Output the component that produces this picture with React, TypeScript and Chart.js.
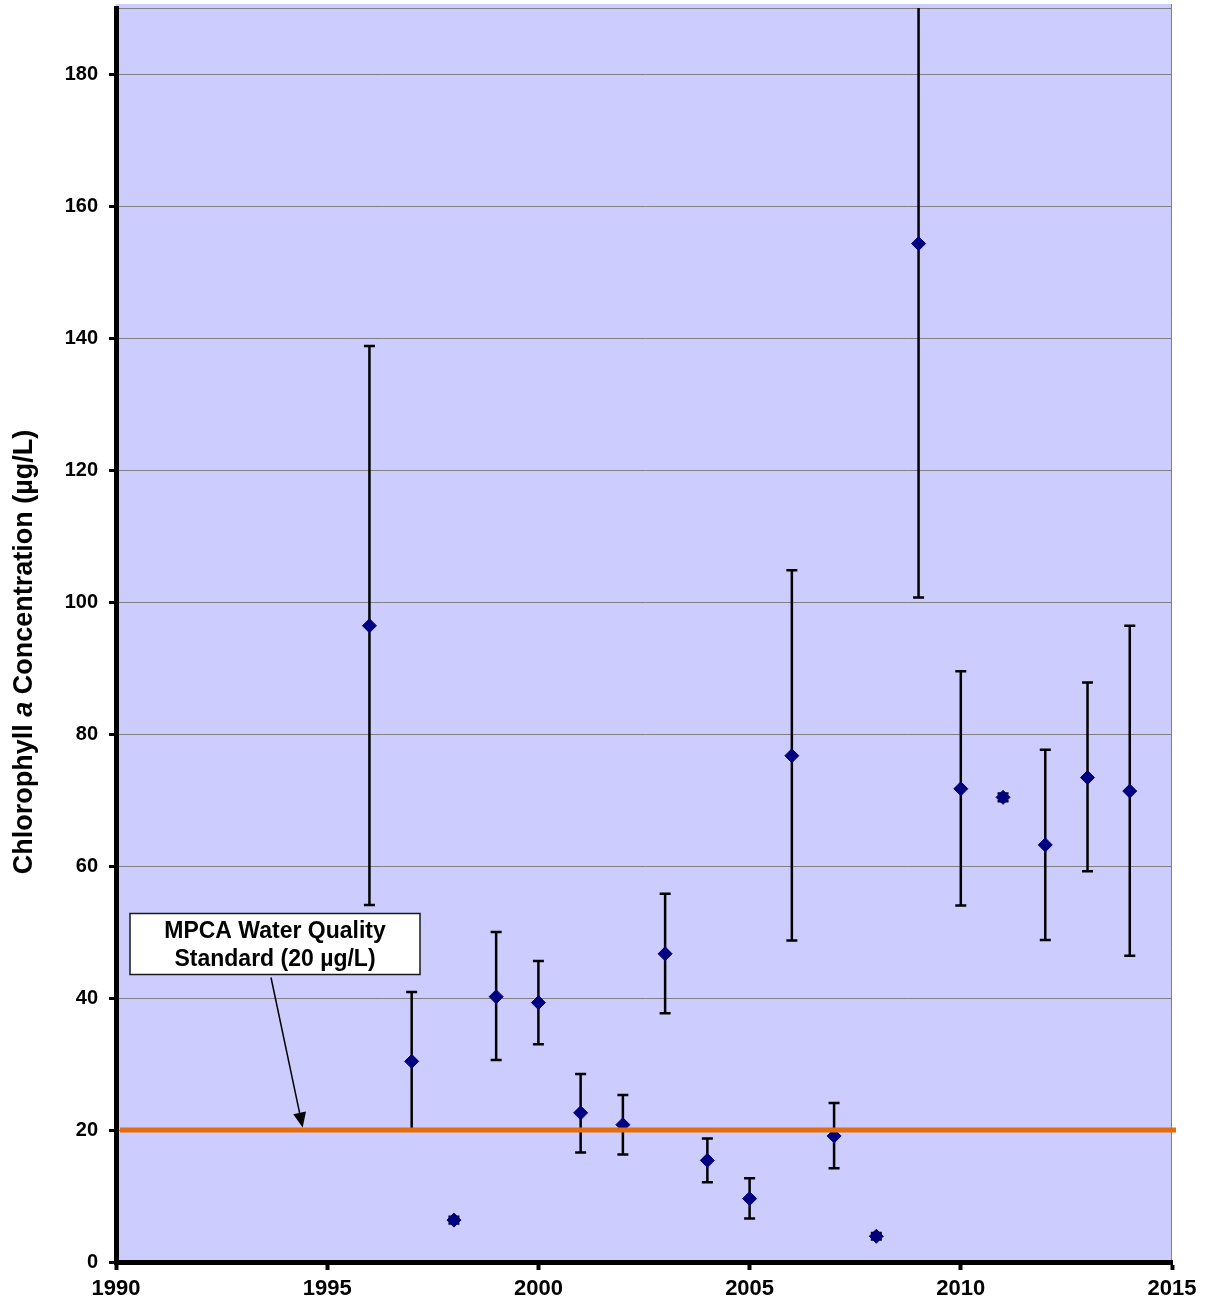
import { useEffect, useRef } from "react";
import { Chart, registerables } from "chart.js";

Chart.register(...registerables);

const years = [1996, 1997, 1998, 1999, 2000, 2001, 2002, 2003, 2004, 2005, 2006, 2007, 2008, 2009, 2010, 2011, 2012, 2013, 2014];
const means = [96.4, 30.4, 6.35, 40.2, 39.3, 22.6, 20.8, 46.7, 15.4, 9.6, 76.7, 19.1, 3.9, 154.3, 71.7, 70.4, 63.2, 73.4, 71.35];
const lower = [54.1, 20.1, 5.85, 30.6, 33.0, 16.6, 16.3, 37.7, 12.1, 6.6, 48.7, 14.2, 3.4, 100.7, 54.0, 69.8, 48.8, 59.2, 46.4];
const upper = [138.8, 40.9, 6.85, 50.0, 45.6, 28.5, 25.3, 55.8, 18.7, 12.7, 104.8, 24.1, 4.4, 207.9, 89.5, 71.0, 77.6, 87.8, 96.4];
const yTicks = [0, 20, 40, 60, 80, 100, 120, 140, 160, 180];
const xTicks = [1990, 1995, 2000, 2005, 2010, 2015];
const standardValue = 20;
const annotationLines = ["MPCA Water Quality", "Standard (20 µg/L)"];
const yTitleParts = [
  { text: "Chlorophyll ", italic: false },
  { text: "a", italic: true },
  { text: " Concentration (µg/L)", italic: false },
];

const FONT = '"Liberation Sans", Arial, Helvetica, sans-serif';

export default function App() {
  const canvasRef = useRef<HTMLCanvasElement | null>(null);

  useEffect(() => {
    const canvas = canvasRef.current;
    if (!canvas) return;

    const plotPlugin = {
      id: "plotDecor",
      beforeDraw(chart: any) {
        const { ctx, chartArea } = chart;
        ctx.save();
        ctx.fillStyle = "#CCCCFF";
        ctx.fillRect(chartArea.left, chartArea.top - 4, chartArea.right - chartArea.left, chartArea.bottom - chartArea.top + 4);
        ctx.strokeStyle = "#808080";
        ctx.lineWidth = 1;
        ctx.beginPath();
        ctx.moveTo(chartArea.left, chartArea.top + 0.5);
        ctx.lineTo(chartArea.right, chartArea.top + 0.5);
        ctx.moveTo(chartArea.right - 0.5, chartArea.top - 4);
        ctx.lineTo(chartArea.right - 0.5, chartArea.bottom);
        ctx.stroke();
        ctx.restore();
      },
      beforeDatasetsDraw(chart: any) {
        const { ctx, chartArea, scales } = chart;
        const xs = scales.x;
        const ys = scales.y;
        ctx.save();
        ctx.beginPath();
        ctx.rect(chartArea.left, chartArea.top, chartArea.right - chartArea.left, chartArea.bottom - chartArea.top);
        ctx.clip();
        ctx.strokeStyle = "#000000";
        ctx.lineWidth = 2.5;
        const cap = 5.5;
        for (let i = 0; i < years.length; i++) {
          const x = xs.getPixelForValue(years[i]);
          const yl = ys.getPixelForValue(lower[i]);
          const yh = ys.getPixelForValue(upper[i]);
          ctx.beginPath();
          ctx.moveTo(x, yl);
          ctx.lineTo(x, yh);
          ctx.moveTo(x - cap, yl);
          ctx.lineTo(x + cap, yl);
          ctx.moveTo(x - cap, yh);
          ctx.lineTo(x + cap, yh);
          ctx.stroke();
        }
        ctx.restore();
      },
      afterDatasetsDraw(chart: any) {
        const { ctx, chartArea, scales } = chart;
        const xs = scales.x;
        const ys = scales.y;
        ctx.save();
        const y20 = ys.getPixelForValue(standardValue);
        ctx.strokeStyle = "#E46C0A";
        ctx.lineWidth = 5;
        ctx.beginPath();
        ctx.moveTo(chartArea.left + 4, y20);
        ctx.lineTo(chartArea.right + 4, y20);
        ctx.stroke();

        const bx = chartArea.left + 14;
        const by = 913.5;
        const bw = 290;
        const bh = 61;
        ctx.fillStyle = "#FFFFFF";
        ctx.fillRect(bx, by, bw, bh);
        ctx.strokeStyle = "#1a1a1a";
        ctx.lineWidth = 1.5;
        ctx.strokeRect(bx, by, bw, bh);
        ctx.fillStyle = "#000000";
        ctx.font = `bold 23px ${FONT}`;
        ctx.textAlign = "center";
        ctx.textBaseline = "middle";
        ctx.fillText(annotationLines[0], bx + bw / 2, by + 18);
        ctx.fillText(annotationLines[1], bx + bw / 2, by + 46);

        const sx = 271;
        const sy = by + bh + 3;
        const tx = xs.getPixelForValue(1994.42);
        const ty = y20 - 2.5;
        const ang = Math.atan2(ty - sy, tx - sx);
        const headLen = 15;
        const headHalf = 6.5;
        const bxh = tx - Math.cos(ang) * headLen;
        const byh = ty - Math.sin(ang) * headLen;
        ctx.strokeStyle = "#000000";
        ctx.lineWidth = 1.5;
        ctx.beginPath();
        ctx.moveTo(sx, sy);
        ctx.lineTo(bxh, byh);
        ctx.stroke();
        ctx.beginPath();
        ctx.moveTo(tx, ty);
        ctx.lineTo(bxh + Math.sin(ang) * headHalf, byh - Math.cos(ang) * headHalf);
        ctx.lineTo(bxh - Math.sin(ang) * headHalf, byh + Math.cos(ang) * headHalf);
        ctx.closePath();
        ctx.fillStyle = "#000000";
        ctx.fill();
        ctx.restore();
      },
      afterDraw(chart: any) {
        const { ctx } = chart;
        ctx.save();
        ctx.translate(25, 652);
        ctx.rotate(-Math.PI / 2);
        ctx.fillStyle = "#000000";
        ctx.textBaseline = "middle";
        ctx.textAlign = "left";
        const fonts = yTitleParts.map((p) => (p.italic ? `italic bold 27px ${FONT}` : `bold 27px ${FONT}`));
        let total = 0;
        const widths = yTitleParts.map((p, i) => {
          ctx.font = fonts[i];
          const w = ctx.measureText(p.text).width;
          total += w;
          return w;
        });
        let x = -total / 2;
        yTitleParts.forEach((p, i) => {
          ctx.font = fonts[i];
          ctx.fillText(p.text, x, 0);
          x += widths[i];
        });
        ctx.restore();
      },
    };

    const chart = new Chart(canvas, {
      type: "scatter",
      data: {
        datasets: [
          {
            data: years.map((y, i) => ({ x: y, y: means[i] })),
            pointStyle: "rectRot",
            pointRadius: 7,
            pointHoverRadius: 7,
            backgroundColor: "#000080",
            borderColor: "#000080",
            borderWidth: 1,
            showLine: false,
          },
        ],
      },
      options: {
        animation: false,
        responsive: false,
        maintainAspectRatio: false,
        events: [],
        layout: { padding: { top: 4, right: 34, left: 0, bottom: 0 } },
        plugins: {
          legend: { display: false },
          tooltip: { enabled: false },
          title: { display: false },
        },
        scales: {
          x: {
            type: "linear",
            min: 1990,
            max: 2015,
            afterBuildTicks: (scale: any) => {
              scale.ticks = xTicks.map((v) => ({ value: v }));
            },
            afterFit: (scale: any) => {
              scale.height = 44;
              scale.paddingLeft = 0;
              scale.paddingRight = 0;
            },
            ticks: {
              color: "#000000",
              font: { family: FONT, size: 22, weight: "bold" },
              padding: 6,
              maxRotation: 0,
              autoSkip: false,
              callback: (v: any) => String(v),
            },
            grid: {
              display: true,
              drawOnChartArea: false,
              drawTicks: true,
              tickLength: 8,
              tickColor: "#000000",
              tickWidth: 4,
            },
            border: { display: true, color: "#000000", width: 5 },
          },
          y: {
            type: "linear",
            min: 0,
            max: 190,
            afterBuildTicks: (scale: any) => {
              scale.ticks = yTicks.map((v) => ({ value: v }));
            },
            afterFit: (scale: any) => {
              scale.width = 116;
              scale.paddingTop = 0;
              scale.paddingBottom = 0;
            },
            ticks: {
              color: "#000000",
              font: { family: FONT, size: 20, weight: "bold" },
              padding: 11,
              callback: (v: any) => String(v),
            },
            grid: {
              color: "#808080",
              lineWidth: 1,
              drawTicks: true,
              tickLength: 7,
              tickColor: "#000000",
              tickWidth: 3,
            },
            border: { display: true, color: "#000000", width: 5 },
          },
        },
      },
      plugins: [plotPlugin],
    } as any);

    return () => {
      chart.destroy();
    };
  }, []);

  return (
    <div style={{ position: "absolute", left: 0, top: 0, width: 1206, height: 1306, background: "#FFFFFF" }}>
      <canvas ref={canvasRef} width={1206} height={1306} style={{ display: "block" }} />
    </div>
  );
}
